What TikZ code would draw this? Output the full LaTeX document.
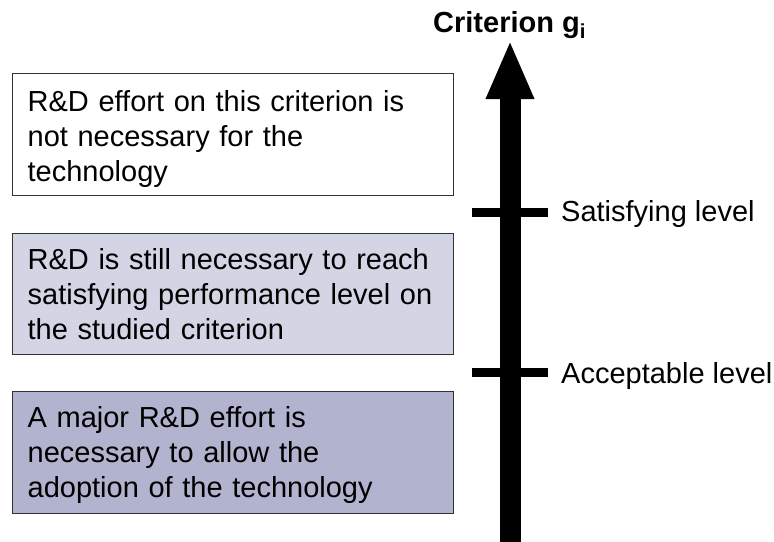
\documentclass[tikz,border=0pt]{standalone}
\usepackage{fontspec}
\setmainfont{Liberation Sans}
\usetikzlibrary{arrows.meta}
\definecolor{boxtwo}{RGB}{212,213,228}
\definecolor{boxthree}{RGB}{178,179,206}
\definecolor{edgegray}{RGB}{50,50,50}
\begin{document}
\begin{tikzpicture}[x=1pt,y=-1pt,
  levelbox/.style={draw=edgegray, line width=1.3pt, anchor=north west,
    minimum width=441pt, text width=411pt, inner xsep=15pt, inner ysep=0pt,
    align=left, font=\fontsize{29}{35}\selectfont},
  ticklevel/.style={line width=9pt, black},
  lvltext/.style={anchor=base west, inner sep=0pt, font=\fontsize{29}{35}\selectfont}]
\useasboundingbox[fill=white] (0,0) rectangle (774,541);
% boxes
\node[levelbox, fill=white, minimum height=122pt] (b1) at (12,73)
  {\rule{0pt}{29pt}R\&D effort on this criterion is\\not necessary for the\\technology};
\node[levelbox, fill=boxtwo, minimum height=121pt] (b2) at (12,233)
  {R\&D is still necessary to reach\\satisfying performance level on\\the studied criterion};
\node[levelbox, fill=boxthree, minimum height=122pt] (b3) at (12,391)
  {\rule{0pt}{26pt}A major R\&D effort is\\necessary to allow the\\adoption of the technology};
% axis
\coordinate (axisbot) at (510,560);
\coordinate (axistop) at (510,40);
\draw[line width=21pt, -{Triangle[width=44pt,length=59pt]}] (axisbot) -- (axistop);
% ticks
\coordinate (s1) at (472,212);
\coordinate (s2) at (548,212);
\coordinate (a1) at (472,372);
\coordinate (a2) at (548,372);
\draw[ticklevel] (s1) -- (s2);
\draw[ticklevel] (a1) -- (a2);
\node[lvltext] (sat) at (561,221) {Satisfying level};
\node[lvltext] (acc) at (561,383) {Acceptable level};
% title
\node[lvltext, font=\fontsize{29}{35}\selectfont\bfseries] (title) at (433,32) {Criterion g\textsubscript{i}};
\end{tikzpicture}
\end{document}
